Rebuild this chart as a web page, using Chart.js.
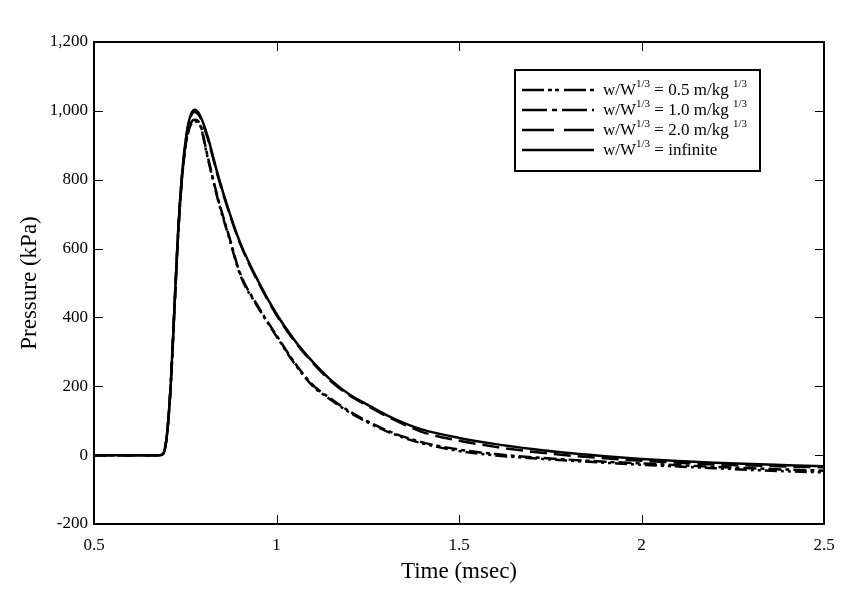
<!DOCTYPE html>
<html>
<head>
<meta charset="utf-8">
<script src="https://cdn.jsdelivr.net/npm/chart.js@4.4.1/dist/chart.umd.min.js"></script>
<style>
    html, body { margin: 0; padding: 0; background: #fff; }
    #wrap { width: 849px; height: 589px; }
</style>
</head>
<body>
<div id="wrap"><canvas id="myChart" width="849" height="589"></canvas></div>
<script>
// time axis (msec), shared by every curve
const timeMs = [0.5, 0.6, 0.68, 0.69, 0.70, 0.71, 0.72, 0.73, 0.74, 0.75, 0.76, 0.775, 0.79, 0.81, 0.84,
    0.87, 0.9, 0.95, 1.0, 1.05, 1.1, 1.15, 1.2, 1.25, 1.3, 1.35, 1.4, 1.5, 1.6, 1.7, 1.8, 1.9, 2.0,
    2.1, 2.2, 2.3, 2.4, 2.5];

// pressure (kPa) for each scaled distance w/W^(1/3)
const pressure05 = [0, 0, 0, 5, 60, 200, 415, 630, 790, 890, 945, 970, 960, 870, 740,
    632, 525, 428, 345, 265, 200, 160, 124, 95, 70, 50, 34, 12, -1, -9, -16, -22, -28,
    -33, -38, -43, -47, -50];
const pressure10 = [0, 0, 0, 5, 60, 200, 415, 632, 792, 893, 948, 974, 963, 874, 744,
    636, 529, 431, 348, 268, 203, 163, 127, 98, 73, 53, 37, 16, 3, -6, -13, -19, -24,
    -29, -34, -38, -42, -45];
const pressure20 = [0, 0, 0, 5, 60, 200, 420, 638, 798, 902, 966, 997, 983, 925, 808,
    705, 615, 502, 407, 330, 267, 214, 173, 143, 114, 89, 67, 42, 24, 10, -1, -9, -16,
    -22, -27, -30, -33, -35];
const pressureInf = [0, 0, 0, 5, 60, 200, 420, 640, 800, 905, 970, 1003, 988, 930, 812,
    708, 618, 505, 410, 333, 270, 217, 176, 146, 117, 93, 74, 50, 32, 18, 6, -3, -11,
    -17, -22, -26, -29, -32];

const seriesNames = ["0.5 m/kg", "1.0 m/kg", "2.0 m/kg", "infinite"];
const xTicks = [0.5, 1, 1.5, 2, 2.5];
const yTicks = [-200, 0, 200, 400, 600, 800, 1000, 1200];

const serif = "'Liberation Serif', 'Times New Roman', serif";

function toPoints(values) {
    return timeMs.map((t, i) => ({ x: t, y: values[i] }));
}

const dashes = [[12, 4, 3, 4, 3, 4], [13, 4, 4, 4], [17, 7], []];
const legendDashes = [[22, 4, 4, 3, 4, 5], [25, 5, 5, 5], [32, 10], []];

// inward ticks, frame and the legend with superscripts
const framePlugin = {
    id: "frame",
    afterDatasetsDraw(chart) {
        const { ctx, chartArea: a, scales } = chart;
        ctx.save();
        ctx.strokeStyle = "#000";
        ctx.lineWidth = 1;
        ctx.setLineDash([]);
        const len = 9;
        yTicks.forEach(v => {
            if (v === yTicks[0] || v === yTicks[yTicks.length - 1]) return;
            const y = Math.round(scales.y.getPixelForValue(v)) + 0.5;
            ctx.beginPath();
            ctx.moveTo(a.left, y); ctx.lineTo(a.left + len, y);
            ctx.moveTo(a.right, y); ctx.lineTo(a.right - len, y);
            ctx.stroke();
        });
        xTicks.forEach(v => {
            if (v === xTicks[0] || v === xTicks[xTicks.length - 1]) return;
            const x = Math.round(scales.x.getPixelForValue(v)) + 0.5;
            ctx.beginPath();
            ctx.moveTo(x, a.bottom); ctx.lineTo(x, a.bottom - len);
            ctx.moveTo(x, a.top); ctx.lineTo(x, a.top + len);
            ctx.stroke();
        });
        ctx.lineWidth = 2;
        ctx.strokeRect(a.left, a.top, a.right - a.left, a.bottom - a.top);

        // legend
        const bx = 515, by = 70, bw = 245, bh = 101;
        ctx.fillStyle = "#fff";
        ctx.fillRect(bx, by, bw, bh);
        ctx.strokeRect(bx, by, bw, bh);
        ctx.textBaseline = "middle";
        ctx.fillStyle = "#000";
        chart.data.datasets.forEach((ds, i) => {
            const y = by + 20 + i * 20;
            ctx.lineWidth = 2.5;
            ctx.setLineDash(legendDashes[i]);
            ctx.beginPath();
            ctx.moveTo(522, y);
            ctx.lineTo(594, y);
            ctx.stroke();
            ctx.setLineDash([]);
            let x = 603;
            const ty = y + 1;
            const parts = [["w/W", false], ["1/3", true]];
            if (seriesNames[i] === "infinite") {
                parts.push([" = infinite", false]);
            } else {
                parts.push([" = " + seriesNames[i] + " ", false], ["1/3", true]);
            }
            parts.forEach(([txt, sup]) => {
                ctx.font = sup ? "11px " + serif : "17px " + serif;
                ctx.fillText(txt, x, sup ? ty - 7 : ty);
                x += ctx.measureText(txt).width;
            });
        });
        ctx.restore();
    }
};

const ctx = document.getElementById("myChart").getContext("2d");
const allValues = [pressure05, pressure10, pressure20, pressureInf];

window.myChart = new Chart(ctx, {
    type: "line",
    data: {
        datasets: allValues.map((vals, i) => ({
            label: "w/W1/3 = " + seriesNames[i],
            data: toPoints(vals),
            borderColor: "#000",
            borderWidth: 2.5,
            borderDash: dashes[i],
            pointRadius: 0,
            fill: false,
            cubicInterpolationMode: "monotone"
        }))
    },
    options: {
        responsive: false,
        animation: false,
        layout: { padding: { left: 0, top: 42, right: 25, bottom: 0 } },
        plugins: {
            legend: { display: false },
            tooltip: { enabled: false }
        },
        scales: {
            x: {
                type: "linear",
                min: 0.5,
                max: 2.5,
                afterBuildTicks: s => { s.ticks = xTicks.map(v => ({ value: v })); },
                afterFit: s => { s.height = 65; },
                grid: { display: false, drawTicks: false },
                border: { display: false },
                ticks: {
                    color: "#000",
                    padding: 11,
                    font: { family: serif, size: 17 },
                    callback: v => String(v)
                },
                title: {
                    display: true,
                    text: "Time (msec)",
                    color: "#000",
                    font: { family: serif, size: 23 },
                    padding: { top: 3, bottom: 3 }
                }
            },
            y: {
                min: -200,
                max: 1200,
                afterBuildTicks: s => { s.ticks = yTicks.map(v => ({ value: v })); },
                afterFit: s => { s.width = 94; },
                grid: { display: false, drawTicks: false },
                border: { display: false },
                ticks: {
                    color: "#000",
                    padding: 6,
                    font: { family: serif, size: 17 },
                    callback: v => v.toLocaleString("en-US")
                },
                title: {
                    display: true,
                    text: "Pressure (kPa)",
                    color: "#000",
                    font: { family: serif, size: 23 },
                    padding: { top: 16, bottom: 16 }
                }
            }
        }
    },
    plugins: [framePlugin]
});
</script>
</body>
</html>
